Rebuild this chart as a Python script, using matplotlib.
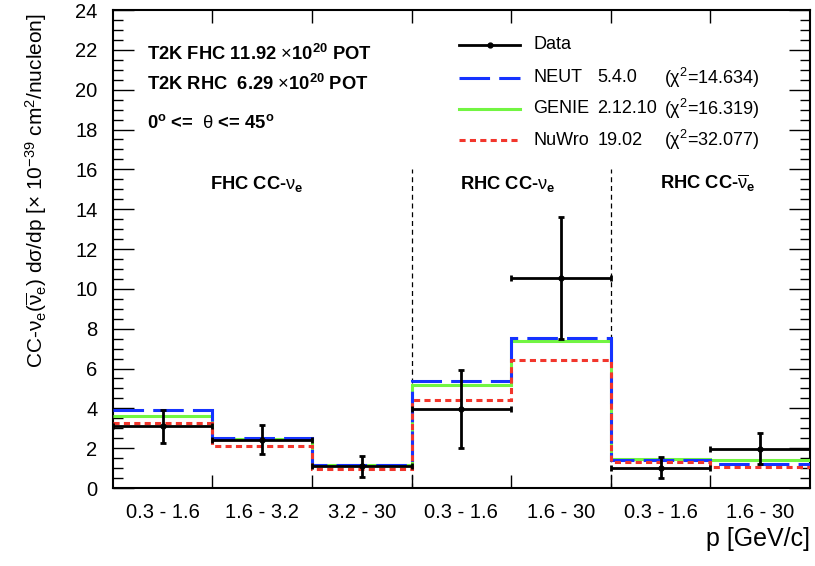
import numpy as np
import matplotlib
matplotlib.use("Agg")
import matplotlib.pyplot as plt
from matplotlib.ticker import MultipleLocator, FixedLocator, NullFormatter

plt.rcParams['font.family'] = ['Liberation Sans', 'DejaVu Sans']
plt.rcParams['mathtext.fontset'] = 'custom'
plt.rcParams['mathtext.rm'] = 'Liberation Sans'
plt.rcParams['mathtext.it'] = 'Liberation Sans'
plt.rcParams['mathtext.bf'] = 'Liberation Sans:bold'

# bins (displayed with uniform width, one unit each)
bin_labels = ["0.3 - 1.6", "1.6 - 3.2", "3.2 - 30", "0.3 - 1.6", "1.6 - 30", "0.3 - 1.6", "1.6 - 30"]
edges = np.arange(len(bin_labels) + 1)
centers = edges[:-1] + 0.5

data_vals = [3.10, 2.43, 1.10, 3.97, 10.55, 1.02, 1.98]
data_err = [0.83, 0.74, 0.53, 1.95, 3.05, 0.54, 0.79]
neut_vals = [3.90, 2.53, 1.17, 5.35, 7.55, 1.43, 1.22]
genie_vals = [3.62, 2.48, 1.17, 5.15, 7.37, 1.47, 1.43]
nuwro_vals = [3.27, 2.13, 0.97, 4.40, 6.45, 1.32, 1.07]

gen_names = ["NEUT", "GENIE", "NuWro"]
gen_versions = ["5.4.0", "2.12.10", "19.02"]
gen_chi2 = ["14.634", "16.319", "32.077"]

region_bounds = [3, 5]

fig = plt.figure(figsize=(8.15, 5.66), dpi=100)
ax = fig.add_axes([0.1383, 0.1378, 0.8556, 0.8445])

blue = "#1533ff"
green = "#72f542"
red = "#f2362c"
neut_ls = (0, (10, 3))
nuwro_ls = (0, (2, 1.4))

ax.stairs(genie_vals, edges, baseline=None, color=green, lw=2.2, zorder=3)
ax.stairs(neut_vals, edges, baseline=None, color=blue, lw=2.2, linestyle=neut_ls, zorder=3)
ax.stairs(nuwro_vals, edges, baseline=None, color=red, lw=2.2, linestyle=nuwro_ls, zorder=4)

ax.errorbar(centers, data_vals, yerr=data_err, xerr=0.5, fmt='o', color='black',
            ms=3.5, lw=2.0, capsize=2.5, capthick=2.0, zorder=5)

for b in region_bounds:
    ax.plot([b, b], [0, 16], color='black', lw=0.9, linestyle=(0, (4, 3)), zorder=2)

ax.set_xlim(0, 7)
ax.set_ylim(0, 24)

# ticks, ROOT style
ax.xaxis.set_major_locator(FixedLocator(edges[1:-1]))
ax.xaxis.set_major_formatter(NullFormatter())
ax.xaxis.set_minor_locator(FixedLocator(centers))
ax.set_xticklabels(bin_labels, minor=True)
ax.tick_params(axis='x', which='major', direction='in', length=9.5, width=1.0, top=True, bottom=True)
ax.tick_params(axis='x', which='minor', length=0, pad=11, labelsize=14.5)
ax.yaxis.set_major_locator(MultipleLocator(2))
ax.yaxis.set_minor_locator(MultipleLocator(0.5))
ax.tick_params(axis='y', which='major', direction='in', length=15, width=1.0, left=True, right=True,
               labelsize=14.5, pad=11)
ax.tick_params(axis='y', which='minor', direction='in', length=7.5, width=1.0, left=True, right=True)
for s in ax.spines.values():
    s.set_linewidth(1.5)

ax.set_ylabel(r"CC-$\nu_{e}(\overline{\nu}_{e})$ d$\sigma$/dp [$\times$ 10$^{-39}$ cm$^{2}$/nucleon]",
              fontsize=15, loc='top')
ax.yaxis.set_label_coords(-0.092, 0.993)
ax.set_xlabel("p [GeV/c]", fontsize=18, loc='right')
ax.xaxis.set_label_coords(1.0, -0.082)

# header text
hdr = dict(transform=ax.transAxes, fontsize=13.2, fontweight='bold', va='baseline')
ax.text(0.049, 0.895, r"T2K FHC 11.92 $\times$10$^{\mathbf{20}}$ POT", **hdr)
ax.text(0.049, 0.833, r"T2K RHC  6.29 $\times$10$^{\mathbf{20}}$ POT", **hdr)
ax.text(0.049, 0.753, r"0$^{\mathbf{o}}$ <=  $\theta$ <= 45$^{\mathbf{o}}$", **hdr)

# region labels
reg = dict(fontsize=13.2, fontweight='bold', ha='center', va='baseline')
ax.text(1.45, 15.0, r"FHC CC-$\nu_{\mathbf{e}}$", **reg)
ax.text(3.97, 15.0, r"RHC CC-$\nu_{\mathbf{e}}$", **reg)
ax.text(5.97, 15.0, r"RHC CC-$\overline{\nu}_{\mathbf{e}}$", **reg)

# legend drawn by hand to keep the column layout
lx0, lx1 = 0.497, 0.584
ly = [0.927, 0.858, 0.793, 0.728]
ax.plot([lx0, lx1], [ly[0], ly[0]], color='black', lw=2.0, transform=ax.transAxes)
ax.plot([(lx0 + lx1) / 2], [ly[0]], 'o', color='black', ms=3.5, transform=ax.transAxes)
ax.text(0.603, ly[0], "Data", transform=ax.transAxes, fontsize=13, va='center')
styles = [(blue, neut_ls), (green, '-'), (red, nuwro_ls)]
for i, (c, ls) in enumerate(styles):
    y = ly[i + 1]
    ax.plot([lx0, lx1], [y, y], color=c, lw=2.2, linestyle=ls, transform=ax.transAxes)
    ax.text(0.603, y, gen_names[i], transform=ax.transAxes, fontsize=13, va='center')
    ax.text(0.695, y, gen_versions[i], transform=ax.transAxes, fontsize=13, va='center')
    ax.text(0.79, y, "(χ$^{2}$=" + gen_chi2[i] + ")", transform=ax.transAxes, fontsize=13, va='center')

fig.savefig("out.png", dpi=100)
